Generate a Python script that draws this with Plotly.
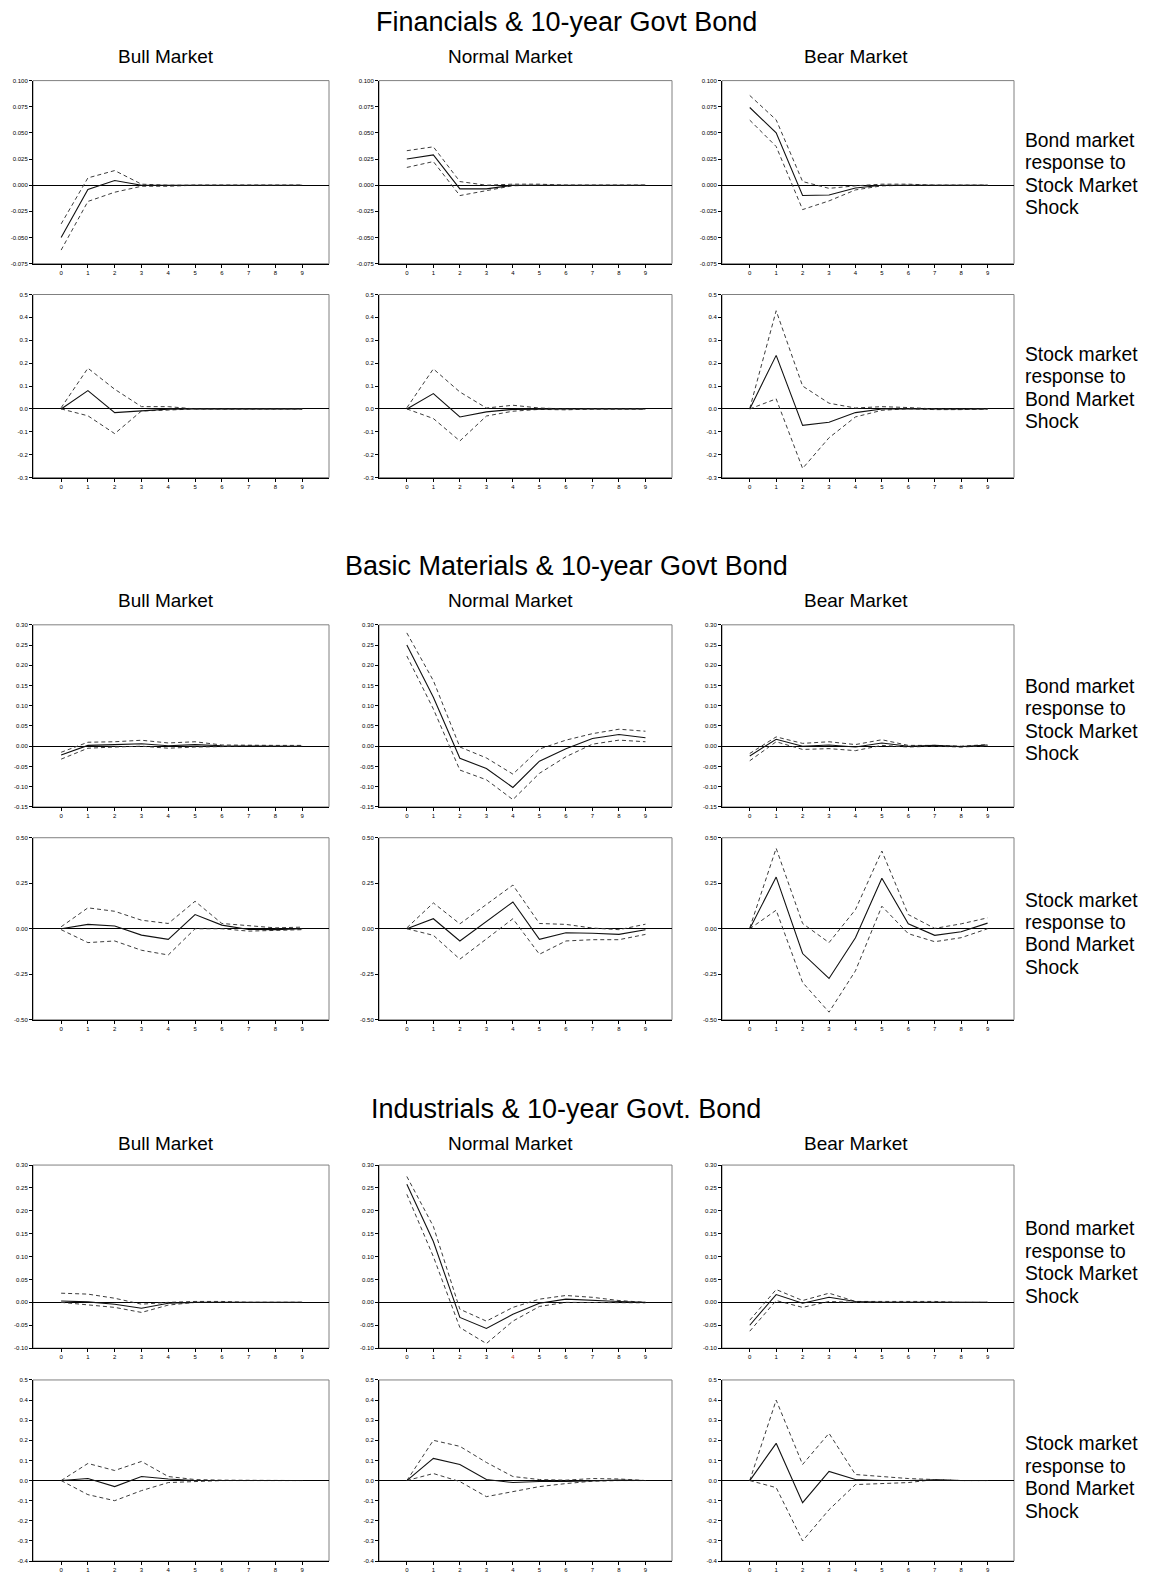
import plotly.graph_objects as go

W, H = 1152, 1573
steps = [0, 1, 2, 3, 4, 5, 6, 7, 8, 9]
step_labels = ["0", "1", "2", "3", "4", "5", "6", "7", "8", "9"]

section_titles = ["Financials & 10-year Govt Bond",
                  "Basic Materials & 10-year Govt Bond",
                  "Industrials & 10-year Govt. Bond"]
market_titles = ["Bull Market", "Normal Market", "Bear Market"]
row_labels = [["Bond market", "response to", "Stock Market", "Shock"],
              ["Stock market", "response to", "Bond Market", "Shock"]]

# ---------------- Financials ----------------
fin_bull_bond_irf = [-0.050, -0.004, 0.0045, 0.000, 0.000, 0, 0, 0, 0, 0]
fin_bull_bond_up = [-0.037, 0.007, 0.014, 0.001, 0.000, 0, 0, 0, 0, 0]
fin_bull_bond_lo = [-0.062, -0.0155, -0.0067, -0.001, -0.001, 0, 0, 0, 0, 0]
fin_norm_bond_irf = [0.025, 0.029, -0.0035, -0.0035, 0.000, 0, 0, 0, 0, 0]
fin_norm_bond_up = [0.033, 0.0367, 0.0035, 0.000, 0.001, 0.001, 0, 0, 0, 0]
fin_norm_bond_lo = [0.017, 0.0226, -0.0099, -0.0054, -0.0005, 0, 0, 0, 0, 0]
fin_bear_bond_irf = [0.0743, 0.050, -0.0099, -0.0093, -0.0026, 0.000, 0, 0, 0, 0]
fin_bear_bond_up = [0.0858, 0.0625, 0.0035, -0.003, -0.0006, 0.001, 0.001, 0, 0, 0]
fin_bear_bond_lo = [0.0622, 0.037, -0.0233, -0.015, -0.0045, -0.0006, 0, 0, 0, 0]

fin_bull_stock_irf = [0.000, 0.080, -0.016, -0.007, -0.001, 0, 0, 0, 0, 0]
fin_bull_stock_up = [0.005, 0.178, 0.086, 0.010, 0.010, 0.000, -0.001, 0, 0, 0]
fin_bull_stock_lo = [0.000, -0.030, -0.108, -0.009, -0.005, 0.000, 0, 0, 0, 0]
fin_norm_stock_irf = [0.000, 0.067, -0.035, -0.013, -0.002, 0, 0, 0, 0, 0]
fin_norm_stock_up = [0.005, 0.175, 0.074, 0.004, 0.016, 0.004, 0.000, 0, 0, 0]
fin_norm_stock_lo = [0.000, -0.042, -0.140, -0.031, -0.010, -0.002, -0.004, 0, 0, 0]
fin_bear_stock_irf = [0.000, 0.234, -0.072, -0.058, -0.016, 0.000, 0, 0, 0, 0]
fin_bear_stock_up = [0.002, 0.429, 0.100, 0.025, 0.004, 0.010, 0.006, 0.000, -0.001, 0]
fin_bear_stock_lo = [0.000, 0.044, -0.260, -0.126, -0.035, -0.006, 0.001, -0.003, -0.003, 0]

# ---------------- Basic Materials ----------------
bas_bull_bond_irf = [-0.022, 0.002, 0.004, 0.006, 0.001, 0.004, 0.001, 0.001, 0, 0]
bas_bull_bond_up = [-0.015, 0.0098, 0.011, 0.0147, 0.008, 0.011, 0.003, 0.002, 0.002, 0.002]
bas_bull_bond_lo = [-0.032, -0.005, -0.002, 0.000, -0.005, -0.002, -0.001, 0.001, 0, 0]
bas_norm_bond_irf = [0.250, 0.121, -0.030, -0.055, -0.102, -0.037, -0.006, 0.019, 0.029, 0.021]
bas_norm_bond_up = [0.280, 0.162, -0.002, -0.029, -0.069, -0.007, 0.015, 0.031, 0.042, 0.037]
bas_norm_bond_lo = [0.223, 0.092, -0.059, -0.083, -0.132, -0.067, -0.026, 0.005, 0.015, 0.011]
bas_bear_bond_irf = [-0.024, 0.017, 0.000, 0.003, -0.002, 0.008, 0.000, 0.002, -0.001, 0.003]
bas_bear_bond_up = [-0.018, 0.023, 0.007, 0.011, 0.004, 0.016, 0.002, 0.002, 0.000, 0.004]
bas_bear_bond_lo = [-0.036, 0.011, -0.008, -0.006, -0.011, 0.002, -0.002, 0.000, -0.002, 0.001]

bas_bull_stock_irf = [0.000, 0.024, 0.015, -0.035, -0.058, 0.078, 0.020, -0.004, -0.005, 0.000]
bas_bull_stock_up = [0.011, 0.115, 0.096, 0.047, 0.029, 0.151, 0.029, 0.015, 0.005, 0.009]
bas_bull_stock_lo = [-0.005, -0.076, -0.067, -0.118, -0.144, 0.000, 0.000, -0.013, -0.009, -0.005]
bas_norm_stock_irf = [0.000, 0.055, -0.067, 0.040, 0.147, -0.058, -0.022, -0.025, -0.031, -0.005]
bas_norm_stock_up = [0.005, 0.142, 0.027, 0.135, 0.240, 0.029, 0.024, 0.004, -0.005, 0.025]
bas_norm_stock_lo = [0.000, -0.036, -0.167, -0.058, 0.055, -0.140, -0.067, -0.060, -0.060, -0.031]
bas_bear_stock_irf = [0.000, 0.284, -0.136, -0.273, -0.049, 0.278, 0.027, -0.036, -0.016, 0.031]
bas_bear_stock_up = [0.005, 0.442, 0.029, -0.076, 0.105, 0.427, 0.078, 0.002, 0.027, 0.060]
bas_bear_stock_lo = [0.000, 0.102, -0.295, -0.458, -0.231, 0.124, -0.027, -0.071, -0.049, 0.000]

# ---------------- Industrials ----------------
ind_bull_bond_irf = [0.003, 0.001, -0.004, -0.013, -0.002, 0.000, 0.000, 0, 0, 0]
ind_bull_bond_up = [0.020, 0.018, 0.009, -0.004, 0.000, 0.002, 0.002, 0, 0, 0]
ind_bull_bond_lo = [0.000, -0.005, -0.011, -0.022, -0.006, 0.000, 0, 0, 0, 0]
ind_norm_bond_irf = [0.258, 0.133, -0.033, -0.057, -0.026, -0.002, 0.007, 0.004, 0.002, 0.000]
ind_norm_bond_up = [0.275, 0.166, -0.015, -0.041, -0.011, 0.007, 0.015, 0.011, 0.004, 0.000]
ind_norm_bond_lo = [0.236, 0.100, -0.055, -0.090, -0.041, -0.009, 0.000, 0.000, -0.001, -0.001]
ind_bear_bond_irf = [-0.050, 0.017, -0.002, 0.011, 0.002, 0.000, 0, 0, 0, 0]
ind_bear_bond_up = [-0.039, 0.028, 0.004, 0.020, 0.002, 0.002, 0.002, 0.002, 0, 0]
ind_bear_bond_lo = [-0.063, 0.004, -0.011, 0.002, 0.000, 0, 0, 0, 0, 0]

ind_bull_stock_irf = [0.000, 0.010, -0.030, 0.020, 0.008, 0.000, 0.000, 0.000, 0, 0]
ind_bull_stock_up = [0.000, 0.085, 0.050, 0.095, 0.020, 0.005, 0.002, 0.002, 0, 0]
ind_bull_stock_lo = [0.000, -0.070, -0.100, -0.050, -0.010, -0.005, 0.000, 0, 0, 0]
ind_norm_stock_irf = [0.000, 0.110, 0.080, 0.005, -0.010, -0.005, -0.005, 0.000, 0.002, 0.000]
ind_norm_stock_up = [0.000, 0.200, 0.170, 0.090, 0.020, 0.005, 0.002, 0.010, 0.008, 0.000]
ind_norm_stock_lo = [0.000, 0.035, -0.005, -0.080, -0.055, -0.030, -0.015, -0.003, 0.000, 0.000]
ind_bear_stock_irf = [0.000, 0.185, -0.110, 0.045, 0.005, 0.000, 0.000, 0.002, 0.000, 0]
ind_bear_stock_up = [0.000, 0.400, 0.080, 0.235, 0.030, 0.020, 0.010, 0.005, 0.000, 0]
ind_bear_stock_lo = [0.000, -0.035, -0.300, -0.145, -0.020, -0.015, -0.010, 0.005, 0.000, 0]

# ---------------- y-axis ticks ----------------
fin_bond_ticks = [-0.075, -0.05, -0.025, 0.0, 0.025, 0.05, 0.075, 0.1]
fin_bond_labels = ["-0.075", "-0.050", "-0.025", "0.000", "0.025", "0.050", "0.075", "0.100"]
fin_stock_ticks = [-0.3, -0.2, -0.1, 0.0, 0.1, 0.2, 0.3, 0.4, 0.5]
fin_stock_labels = ["-0.3", "-0.2", "-0.1", "0.0", "0.1", "0.2", "0.3", "0.4", "0.5"]
bas_bond_ticks = [-0.15, -0.10, -0.05, 0.0, 0.05, 0.10, 0.15, 0.20, 0.25, 0.30]
bas_bond_labels = ["-0.15", "-0.10", "-0.05", "0.00", "0.05", "0.10", "0.15", "0.20", "0.25", "0.30"]
bas_stock_ticks = [-0.50, -0.25, 0.0, 0.25, 0.50]
bas_stock_labels = ["-0.50", "-0.25", "0.00", "0.25", "0.50"]
ind_bond_ticks = [-0.10, -0.05, 0.0, 0.05, 0.10, 0.15, 0.20, 0.25, 0.30]
ind_bond_labels = ["-0.10", "-0.05", "0.00", "0.05", "0.10", "0.15", "0.20", "0.25", "0.30"]
ind_stock_ticks = [-0.4, -0.3, -0.2, -0.1, 0.0, 0.1, 0.2, 0.3, 0.4, 0.5]
ind_stock_labels = ["-0.4", "-0.3", "-0.2", "-0.1", "0.0", "0.1", "0.2", "0.3", "0.4", "0.5"]

panels = [
    # (row, col, irf, up, lo, ticks, labels)
    (0, 0, fin_bull_bond_irf, fin_bull_bond_up, fin_bull_bond_lo, fin_bond_ticks, fin_bond_labels),
    (0, 1, fin_norm_bond_irf, fin_norm_bond_up, fin_norm_bond_lo, fin_bond_ticks, fin_bond_labels),
    (0, 2, fin_bear_bond_irf, fin_bear_bond_up, fin_bear_bond_lo, fin_bond_ticks, fin_bond_labels),
    (1, 0, fin_bull_stock_irf, fin_bull_stock_up, fin_bull_stock_lo, fin_stock_ticks, fin_stock_labels),
    (1, 1, fin_norm_stock_irf, fin_norm_stock_up, fin_norm_stock_lo, fin_stock_ticks, fin_stock_labels),
    (1, 2, fin_bear_stock_irf, fin_bear_stock_up, fin_bear_stock_lo, fin_stock_ticks, fin_stock_labels),
    (2, 0, bas_bull_bond_irf, bas_bull_bond_up, bas_bull_bond_lo, bas_bond_ticks, bas_bond_labels),
    (2, 1, bas_norm_bond_irf, bas_norm_bond_up, bas_norm_bond_lo, bas_bond_ticks, bas_bond_labels),
    (2, 2, bas_bear_bond_irf, bas_bear_bond_up, bas_bear_bond_lo, bas_bond_ticks, bas_bond_labels),
    (3, 0, bas_bull_stock_irf, bas_bull_stock_up, bas_bull_stock_lo, bas_stock_ticks, bas_stock_labels),
    (3, 1, bas_norm_stock_irf, bas_norm_stock_up, bas_norm_stock_lo, bas_stock_ticks, bas_stock_labels),
    (3, 2, bas_bear_stock_irf, bas_bear_stock_up, bas_bear_stock_lo, bas_stock_ticks, bas_stock_labels),
    (4, 0, ind_bull_bond_irf, ind_bull_bond_up, ind_bull_bond_lo, ind_bond_ticks, ind_bond_labels),
    (4, 1, ind_norm_bond_irf, ind_norm_bond_up, ind_norm_bond_lo, ind_bond_ticks, ind_bond_labels),
    (4, 2, ind_bear_bond_irf, ind_bear_bond_up, ind_bear_bond_lo, ind_bond_ticks, ind_bond_labels),
    (5, 0, ind_bull_stock_irf, ind_bull_stock_up, ind_bull_stock_lo, ind_stock_ticks, ind_stock_labels),
    (5, 1, ind_norm_stock_irf, ind_norm_stock_up, ind_norm_stock_lo, ind_stock_ticks, ind_stock_labels),
    (5, 2, ind_bear_stock_irf, ind_bear_stock_up, ind_bear_stock_lo, ind_stock_ticks, ind_stock_labels),
]

# ---------------- layout geometry (pixels) ----------------
cols_px = [(33, 329), (379, 672), (722, 1014)]
rows_px = [(78, 262), (293, 477), (625, 808), (839, 1022), (1168, 1352), (1384, 1566)]
section_title_y = [19, 566, 1112]
market_title_y = [54, 601, 1146]
market_title_x = [166, 510, 856]
label_offsets = [2, 2, 4, 5, 6, 7]

FONT = "Arial, Liberation Sans, sans-serif"
DASH_COLOR = "#3c3c3c"

fig = go.Figure()
layout_axes = {}
shapes = []
for k, (r, c, irf, up, lo, yt, yl) in enumerate(panels, start=1):
    xa = "x" if k == 1 else f"x{k}"
    ya = "y" if k == 1 else f"y{k}"
    x0, x1 = cols_px[c]
    y0, y1 = rows_px[r]
    for series, dash, color, width in ((up, "4px,3px", DASH_COLOR, 1),
                                       (lo, "4px,3px", DASH_COLOR, 1),
                                       (irf, "solid", "#111111", 1.1)):
        fig.add_trace(go.Scatter(x=steps, y=series, mode="lines", xaxis=xa, yaxis=ya,
                                 line=dict(color=color, width=width, dash=dash),
                                 showlegend=False, hoverinfo="skip"))
    xticktext = list(step_labels)
    if r == 4 and c == 1:
        xticktext[4] = "<span style='color:#d04020'>4</span>"
    layout_axes["xaxis" if k == 1 else f"xaxis{k}"] = dict(
        domain=[x0 / W, x1 / W], anchor=ya, range=[-1.05, 10.0],
        tickmode="array", tickvals=steps, ticktext=xticktext,
        ticks="outside", ticklen=3, tickwidth=1, tickcolor="black",
        tickfont=dict(size=6, family=FONT, color="black"),
        showline=True, linecolor="black", linewidth=1, mirror=False,
        showgrid=False, zeroline=False, fixedrange=True)
    layout_axes["yaxis" if k == 1 else f"yaxis{k}"] = dict(
        domain=[1 - y1 / H, 1 - y0 / H], anchor=xa, range=[yt[0], yt[-1]],
        tickmode="array", tickvals=yt, ticktext=yl,
        ticks="outside", ticklen=3, tickwidth=1, tickcolor="black",
        tickfont=dict(size=6, family=FONT, color="black"),
        showline=True, linecolor="black", linewidth=1, mirror=False,
        showgrid=False, zeroline=True, zerolinecolor="black", zerolinewidth=1,
        fixedrange=True)
    shapes.append(dict(type="rect", xref=f"{xa} domain", yref=f"{ya} domain",
                       x0=0, x1=1, y0=0, y1=1, layer="below",
                       line=dict(color="#808080", width=1)))

annotations = []
for s, title in enumerate(section_titles):
    annotations.append(dict(text=title, x=566 / W, y=1 - section_title_y[s] / H,
                            xref="paper", yref="paper", showarrow=False,
                            xanchor="center", yanchor="middle",
                            font=dict(size=27, family=FONT, color="black")))
    for c, mt in enumerate(market_titles):
        annotations.append(dict(text=mt, x=market_title_x[c] / W, y=1 - market_title_y[s] / H,
                                xref="paper", yref="paper", showarrow=False,
                                xanchor="center", yanchor="middle",
                                font=dict(size=19, family=FONT, color="black")))
for r in range(6):
    y0, y1 = rows_px[r]
    center = (y0 + y1) / 2 + label_offsets[r]
    for i, line in enumerate(row_labels[r % 2]):
        yy = center + (i - 1.5) * 22.5
        annotations.append(dict(text=line, x=1023 / W, y=1 - yy / H,
                                xref="paper", yref="paper", showarrow=False,
                                xanchor="left", yanchor="middle",
                                font=dict(size=19.3, family=FONT, color="black")))

fig.update_layout(width=W, height=H, autosize=False,
                  margin=dict(l=0, r=0, t=0, b=0),
                  paper_bgcolor="white", plot_bgcolor="white",
                  showlegend=False, annotations=annotations, shapes=shapes,
                  **layout_axes)

fig.write_html("out.html", config={"displayModeBar": False, "staticPlot": True},
               post_script="document.body.style.margin='0';"
                           "document.body.style.padding='0';"
                           "document.body.style.overflow='hidden';")
